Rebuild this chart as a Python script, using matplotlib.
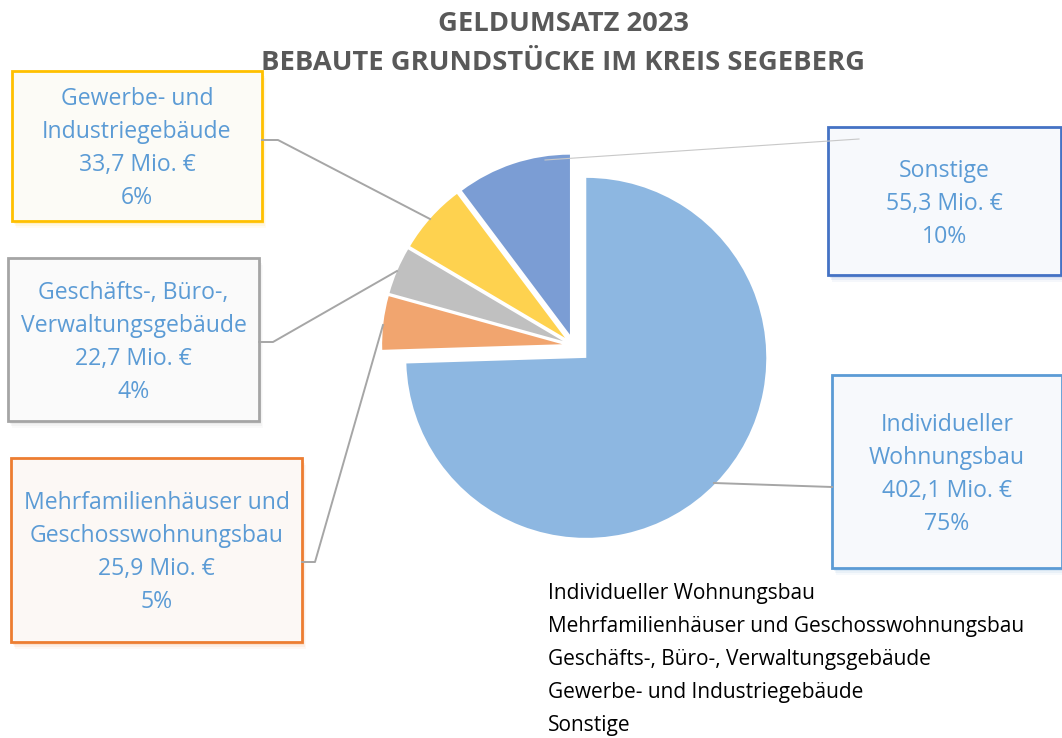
import matplotlib
matplotlib.use("Agg")
import matplotlib.pyplot as plt
from matplotlib.patches import Rectangle

# data
categories = ["Individueller Wohnungsbau",
              "Mehrfamilienhäuser und Geschosswohnungsbau",
              "Geschäfts-, Büro-, Verwaltungsgebäude",
              "Gewerbe- und Industriegebäude",
              "Sonstige"]
box_names = ["Individueller\nWohnungsbau",
             "Mehrfamilienhäuser und\nGeschosswohnungsbau",
             "Geschäfts-, Büro-,\nVerwaltungsgebäude",
             "Gewerbe- und\nIndustriegebäude",
             "Sonstige"]
umsatz = [402.1, 25.9, 22.7, 33.7, 55.3]  # Mio. EUR

slice_colors = ["#8DB7E1", "#F1A56F", "#C0C0C0", "#FED24F", "#7B9DD4"]
border_colors = ["#5B9BD5", "#ED7D31", "#A5A5A5", "#FFC000", "#4472C4"]
fill_colors = ["#F7F9FC", "#FCF8F5", "#FAFAFA", "#FCFBF6", "#F7F9FC"]

W, H = 1062, 738
S = 180.0  # pixels per data unit (pie radius)

plt.rcParams['font.family'] = ['Open Sans', 'DejaVu Sans']

fig = plt.figure(figsize=(W / 100, H / 100), dpi=100)
ax = fig.add_axes([0, 0, 1, 1])


def P(x, y):
    # top-left pixel position -> data coords
    return x / S, (H - y) / S


wedges, _ = ax.pie(umsatz, colors=slice_colors, startangle=90, counterclock=False,
                   radius=1, center=P(573.6, 345.6),
                   explode=[0.098, 0.064, 0.064, 0.064, 0.064],
                   wedgeprops=dict(linewidth=0))
ax.set_xlim(0, W / S)
ax.set_ylim(0, H / S)
ax.set_aspect('equal')
ax.axis('off')

# title
tc = "#595959"
ax.text(*P(563, 24), "GELDUMSATZ 2023", ha='center', va='center',
        fontsize=19.7, fontweight='bold', color=tc)
ax.text(*P(563, 63), "BEBAUTE GRUNDSTÜCKE IM KREIS SEGEBERG", ha='center', va='center',
        fontsize=19.7, fontweight='bold', color=tc)

# callout boxes (left, top, right, bottom) in pixels
boxes = [(832, 375, 1062, 568),
         (11, 458, 302, 642),
         (8, 258, 259, 421),
         (12, 71, 262, 221),
         (828, 127, 1061, 275)]

leaders = [[(832, 487), (714, 483)],
           [(302, 562), (315, 562), (383, 325)],
           [(259, 342), (273, 342), (397, 271)],
           [(262, 140), (278, 140), (430, 219)],
           [(859, 139), (545, 160)]]

total = sum(umsatz)
label_color = "#5B9BD5"
for i, (l, t, r, b) in enumerate(boxes):
    x0, y0 = P(l, b)
    w, h = (r - l) / S, (b - t) / S
    # soft shadow
    for k, a in [(7, 0.05), (5, 0.08), (3, 0.12)]:
        ax.add_patch(Rectangle((x0 + k * 0.6 / S, y0 - k / S), w, h, facecolor=border_colors[i],
                               edgecolor='none', alpha=a, zorder=3))
    ax.add_patch(Rectangle((x0, y0), w, h, facecolor=fill_colors[i],
                           edgecolor=border_colors[i], linewidth=2, zorder=4))
    lines = box_names[i].split("\n") + ["%s Mio. €" % ("%.1f" % umsatz[i]).replace(".", ","),
                                        "%d%%" % round(umsatz[i] / total * 100)]
    cx = (l + r) / 2
    cy = (t + b) / 2 + 3
    step = 33
    y_first = cy - step * (len(lines) - 1) / 2
    for j, s in enumerate(lines):
        ax.text(*P(cx, y_first + j * step), s, ha='center', va='center',
                fontsize=16.6, color=label_color, zorder=6)
    pts = [P(*p) for p in leaders[i]]
    lw = 0.8 if i == 4 else 1.4
    lc = "#C8C8C8" if i == 4 else "#A6A6A6"
    ax.plot([p[0] for p in pts], [p[1] for p in pts], color=lc, linewidth=lw, zorder=5)

# legend (entries only, no visible keys)
leg = ax.legend(wedges, categories, loc='upper left', bbox_to_anchor=P(540, 575),
                bbox_transform=ax.transData, frameon=False, handlelength=0,
                handletextpad=0, fontsize=15, labelspacing=0.57, borderaxespad=0)
for h in leg.legend_handles:
    h.set_visible(False)

fig.savefig("out.png", dpi=100)
